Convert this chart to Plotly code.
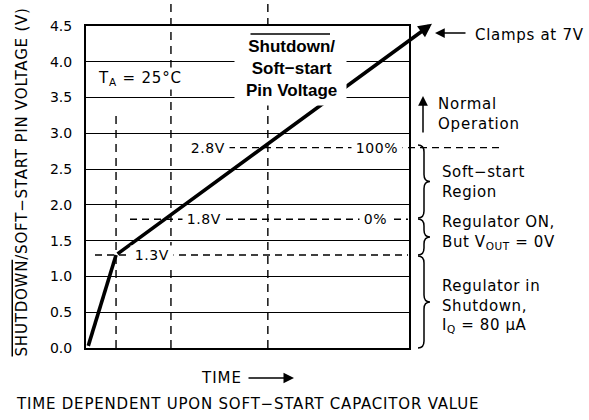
import plotly.graph_objects as go

# ---------------- data ----------------
time_pts = [0.07, 0.93, 10.71]          # arbitrary time units (TIME axis)
volt_pts = [0.03, 1.30, 4.53]           # pin voltage (V)
ref_levels = [1.3, 1.8, 2.8]            # threshold voltages (V)
ref_labels = ["1.3V", "1.8V", "2.8V"]
pct_labels = ["", "0%", "100%"]
marker_times = [0.93, 2.63, 5.63]       # vertical dashed markers (time units)
marker_top_v = [3.3, 4.95, 4.9]         # top end of each vertical marker (V)
y_ticks = [0.0, 0.5, 1.0, 1.5, 2.0, 2.5, 3.0, 3.5, 4.0, 4.5]
y_ticklabels = ["0.0", "0.5", "1.0", "1.5", "2.0", "2.5", "3.0", "3.5", "4.0", "4.5"]
region_labels = [
    "Soft\u2212start<br>Region",
    "Regulator ON,<br>But V<sub>OUT</sub> = 0V",
    "Regulator in<br>Shutdown,<br>I<sub>Q</sub> = 80 \u03bcA",
]

# ---------------- layout geometry ----------------
W, H = 589, 420
PL, PR, PT, PB = 86, 409, 26, 348
X_MAX, Y_MAX = 10.0, 4.5
FONT = "DejaVu Sans"
NB = "\u2009"


def px(x):
    return (x - PL) / (PR - PL)


def py(y):
    return (PB - y) / (PB - PT)


def sp(txt, ls=0.8, extra=""):
    return '<span style="letter-spacing:%spx%s">%s</span>' % (ls, extra, txt)


def label(x, y, text, size=15, xanchor="center", **kw):
    d = dict(x=px(x), y=py(y), xref="paper", yref="paper", text=text,
             showarrow=False, xanchor=xanchor, yanchor="middle",
             font=dict(family=FONT, size=size, color="black"))
    d.update(kw)
    return d


fig = go.Figure()

# first (steep) segment of the pin-voltage curve
fig.add_trace(go.Scatter(
    x=time_pts[:2], y=volt_pts[:2], mode="lines",
    line=dict(color="black", width=3.6), hoverinfo="skip", showlegend=False,
))

shapes = []
annotations = []

# vertical dashed time markers
for t, top in zip(marker_times, marker_top_v):
    shapes.append(dict(type="line", xref="x", yref="paper", x0=t, x1=t,
                       y0=0, y1=top / Y_MAX,
                       line=dict(color="black", width=1.4, dash="8px,6px")))

# horizontal dashed threshold lines
h_starts = [95, 130, 192]
h_ends = [408, 408, 502]
for v, x0, x1 in zip(ref_levels, h_starts, h_ends):
    shapes.append(dict(type="line", xref="paper", yref="y", x0=px(x0), x1=px(x1),
                       y0=v, y1=v,
                       line=dict(color="black", width=1.4, dash="7px,5px")))


# braces on right side
def brace(y0, y1, x0=418, xm=424, xt=430, r=7):
    ym = (y0 + y1) / 2
    pts = [
        ("M", [(x0, y0)]),
        ("Q", [(xm, y0), (xm, y0 + r)]),
        ("L", [(xm, ym - r)]),
        ("Q", [(xm, ym), (xt, ym)]),
        ("Q", [(xm, ym), (xm, ym + r)]),
        ("L", [(xm, y1 - r)]),
        ("Q", [(xm, y1), (x0, y1)]),
    ]
    s = ""
    for cmd, ps in pts:
        s += cmd + " ".join("%.5f,%.5f" % (px(a), py(b)) for a, b in ps) + " "
    return dict(type="path", xref="paper", yref="paper", path=s.strip(),
                line=dict(color="black", width=1.5))


for y0, y1 in [(145, 218), (219, 255), (256, 348)]:
    shapes.append(brace(y0, y1))

# main arrow (remaining part of the curve, reaches past the frame)
annotations.append(dict(
    x=time_pts[2], y=volt_pts[2], xref="x", yref="y",
    ax=time_pts[1], ay=volt_pts[1], axref="x", ayref="y",
    text="", showarrow=True, arrowhead=2, arrowsize=0.75, arrowwidth=3.6,
    arrowcolor="black", standoff=0, startstandoff=0,
))

# white box + bold label
annotations.append(label(290.5, 67.5, " ", width=111, height=75,
                         bgcolor="white", borderpad=0))
annotations.append(label(291, 68.5, "<b>Shutdown/<br>Soft\u2212start<br>Pin Voltage</b>",
                         font=dict(family="Liberation Sans", size=17, color="black")))
# overline on "Shutdown"
annotations.append(dict(
    x=px(330), y=py(34), xref="paper", yref="paper",
    ax=-81, ay=0,
    text="", showarrow=True, arrowhead=0, arrowwidth=1.3, arrowcolor="black",
    standoff=0, startstandoff=0,
))

# threshold labels
lab_x = [152, 204, 208]
for v, lab, x in zip(ref_levels, ref_labels, lab_x):
    annotations.append(dict(x=px(x), y=v, xref="paper", yref="y",
                            text=NB + sp(lab, 0.6) + NB,
                            showarrow=False, xanchor="center", yanchor="middle",
                            bgcolor="white", borderpad=1,
                            font=dict(family=FONT, size=14, color="black")))
pct_x = [0, 375, 377]
for v, lab, x in zip(ref_levels, pct_labels, pct_x):
    if lab:
        annotations.append(dict(x=px(x), y=v, xref="paper", yref="y",
                                text=NB + sp(lab, 0.6) + NB,
                                showarrow=False, xanchor="center", yanchor="middle",
                                bgcolor="white", borderpad=1,
                                font=dict(family=FONT, size=14, color="black")))

# T_A label
annotations.append(label(96, 78, sp("T<sub>A</sub> = 25\u00b0C", 0.8), xanchor="left",
                         bgcolor="white", borderpad=1))

# Clamps at 7V
annotations.append(dict(x=px(435), y=py(33), xref="paper", yref="paper",
                        ax=32, ay=0, text="", showarrow=True, arrowhead=2,
                        arrowsize=1.3, arrowwidth=1.5, arrowcolor="black"))
annotations.append(label(473, 35, sp("Clamps at 7V", 0.7), xanchor="left"))

# Normal operation
annotations.append(dict(x=px(423), y=py(96), xref="paper", yref="paper",
                        ax=0, ay=38, text="", showarrow=True, arrowhead=2,
                        arrowsize=1.3, arrowwidth=1.5, arrowcolor="black"))
annotations.append(label(436, 114, sp("Normal<br>Operation", 0.8), xanchor="left",
                         align="left"))

# region texts
region_y = [181.5, 233, 306]
for txt, y in zip(region_labels, region_y):
    annotations.append(label(440, y, sp(txt, 0.6), xanchor="left", align="left"))

# TIME arrow
annotations.append(label(199, 378, sp("TIME", 1.0), xanchor="left"))
annotations.append(dict(x=px(294), y=py(378), xref="paper", yref="paper",
                        ax=-47, ay=0, text="", showarrow=True, arrowhead=2,
                        arrowsize=1.4, arrowwidth=1.5, arrowcolor="black"))

# bottom caption
annotations.append(label(247.5, 404,
                         sp("TIME DEPENDENT UPON SOFT\u2212START CAPACITOR VALUE", 0.8)))

# y-axis title (SHUTDOWN carries an overline)
annotations.append(label(21, 182.5,
                         sp("SHUTDOWN", 0.8, ";text-decoration:overline")
                         + sp("/SOFT\u2212START PIN VOLTAGE (V)", 0.8),
                         textangle=-90))

fig.update_layout(
    width=W, height=H,
    margin=dict(l=PL, r=W - PR, t=PT, b=H - PB, pad=0),
    paper_bgcolor="white", plot_bgcolor="white",
    showlegend=False,
    shapes=shapes, annotations=annotations,
    xaxis=dict(range=[0, X_MAX], showticklabels=False, showgrid=False, zeroline=False,
               showline=True, mirror=True, linecolor="black", linewidth=2, ticks=""),
    yaxis=dict(range=[0, Y_MAX], tickvals=y_ticks, ticktext=y_ticklabels,
               showgrid=True, gridcolor="black", gridwidth=1.3, zeroline=False,
               showline=True, mirror=True, linecolor="black", linewidth=2,
               ticks="outside", ticklen=9, tickcolor="rgba(0,0,0,0)",
               tickfont=dict(family=FONT, size=14, color="black")),
)

fig.write_html("out.html", config={"displayModeBar": False},
               post_script="document.body.style.margin='0px';")
